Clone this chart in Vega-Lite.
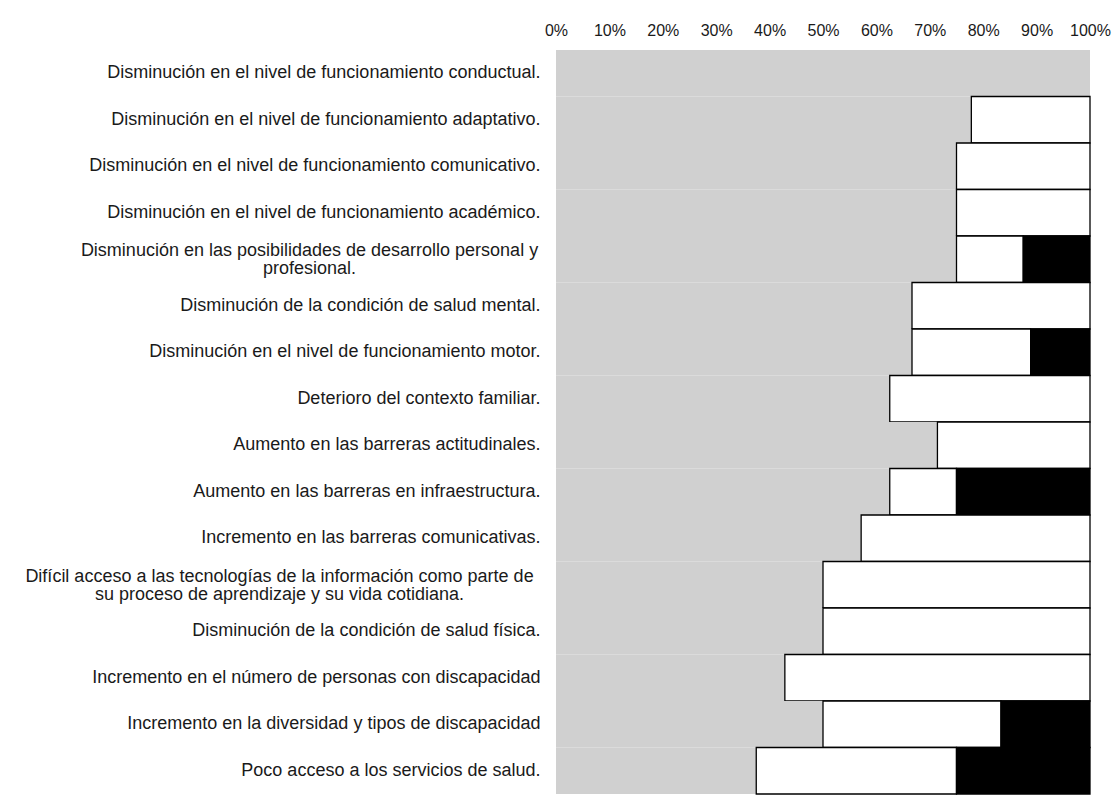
{
  "$schema": "https://vega.github.io/schema/vega-lite/v6.json",
  "autosize": {"type": "none"},
  "padding": {"left": 556, "top": 50, "right": 30, "bottom": 13},
  "width": 534,
  "height": 744,
  "background": "white",
  "config": {"view": {"stroke": null}, "font": "Liberation Sans"},
  "data": {
    "values": [
      {"item": "Disminución en el nivel de funcionamiento conductual.", "serie": "Serie 1", "n": 8},
      {"item": "Disminución en el nivel de funcionamiento adaptativo.", "serie": "Serie 1", "n": 7},
      {"item": "Disminución en el nivel de funcionamiento adaptativo.", "serie": "Serie 2", "n": 2},
      {"item": "Disminución en el nivel de funcionamiento comunicativo.", "serie": "Serie 1", "n": 6},
      {"item": "Disminución en el nivel de funcionamiento comunicativo.", "serie": "Serie 2", "n": 2},
      {"item": "Disminución en el nivel de funcionamiento académico.", "serie": "Serie 1", "n": 6},
      {"item": "Disminución en el nivel de funcionamiento académico.", "serie": "Serie 2", "n": 2},
      {"item": "Disminución en las posibilidades de desarrollo personal y|profesional.", "serie": "Serie 1", "n": 6},
      {"item": "Disminución en las posibilidades de desarrollo personal y|profesional.", "serie": "Serie 2", "n": 1},
      {"item": "Disminución en las posibilidades de desarrollo personal y|profesional.", "serie": "Serie 3", "n": 1},
      {"item": "Disminución de la condición de salud mental.", "serie": "Serie 1", "n": 6},
      {"item": "Disminución de la condición de salud mental.", "serie": "Serie 2", "n": 3},
      {"item": "Disminución en el nivel de funcionamiento motor.", "serie": "Serie 1", "n": 6},
      {"item": "Disminución en el nivel de funcionamiento motor.", "serie": "Serie 2", "n": 2},
      {"item": "Disminución en el nivel de funcionamiento motor.", "serie": "Serie 3", "n": 1},
      {"item": "Deterioro del contexto familiar.", "serie": "Serie 1", "n": 5},
      {"item": "Deterioro del contexto familiar.", "serie": "Serie 2", "n": 3},
      {"item": "Aumento en las barreras actitudinales.", "serie": "Serie 1", "n": 5},
      {"item": "Aumento en las barreras actitudinales.", "serie": "Serie 2", "n": 2},
      {"item": "Aumento en las barreras en infraestructura.", "serie": "Serie 1", "n": 5},
      {"item": "Aumento en las barreras en infraestructura.", "serie": "Serie 2", "n": 1},
      {"item": "Aumento en las barreras en infraestructura.", "serie": "Serie 3", "n": 2},
      {"item": "Incremento en las barreras comunicativas.", "serie": "Serie 1", "n": 4},
      {"item": "Incremento en las barreras comunicativas.", "serie": "Serie 2", "n": 3},
      {"item": "Difícil acceso a las tecnologías de la información como parte de|su proceso de aprendizaje y su vida cotidiana.", "serie": "Serie 1", "n": 4},
      {"item": "Difícil acceso a las tecnologías de la información como parte de|su proceso de aprendizaje y su vida cotidiana.", "serie": "Serie 2", "n": 4},
      {"item": "Disminución de la condición de salud física.", "serie": "Serie 1", "n": 4},
      {"item": "Disminución de la condición de salud física.", "serie": "Serie 2", "n": 4},
      {"item": "Incremento en el número de personas con discapacidad", "serie": "Serie 1", "n": 3},
      {"item": "Incremento en el número de personas con discapacidad", "serie": "Serie 2", "n": 4},
      {"item": "Incremento en la diversidad y tipos de discapacidad", "serie": "Serie 1", "n": 3},
      {"item": "Incremento en la diversidad y tipos de discapacidad", "serie": "Serie 2", "n": 2},
      {"item": "Incremento en la diversidad y tipos de discapacidad", "serie": "Serie 3", "n": 1},
      {"item": "Poco acceso a los servicios de salud.", "serie": "Serie 1", "n": 3},
      {"item": "Poco acceso a los servicios de salud.", "serie": "Serie 2", "n": 3},
      {"item": "Poco acceso a los servicios de salud.", "serie": "Serie 3", "n": 2}
    ]
  },
  "mark": {"type": "bar", "strokeWidth": 1.3},
  "encoding": {
    "y": {
      "field": "item",
      "type": "nominal",
      "sort": null,
      "scale": {"paddingInner": 0, "paddingOuter": 0},
      "axis": {
        "title": null,
        "domain": false,
        "ticks": false,
        "labelExpr": "split(datum.label, '|')",
        "labelLimit": 0,
        "labelFontSize": 18,
        "labelColor": "#1a1a1a",
        "labelAlign": {
          "condition": {"test": "indexof(datum.value, '|') >= 0", "value": "center"},
          "value": "right"
        },
        "labelPadding": {
          "condition": [
            {"test": "indexof(datum.value, 'posibilidades') >= 0", "value": 247},
            {"test": "indexof(datum.value, 'tecnologías') >= 0", "value": 277}
          ],
          "value": 16
        },
        "labelOffset": {
          "condition": {"test": "indexof(datum.value, '|') >= 0", "value": -8},
          "value": 0
        },
        "labelLineHeight": 18
      }
    },
    "x": {
      "field": "n",
      "type": "quantitative",
      "stack": "normalize",
      "scale": {"domain": [0, 1]},
      "axis": {
        "orient": "top",
        "title": null,
        "format": ".0%",
        "values": [0, 0.1, 0.2, 0.3, 0.4, 0.5, 0.6, 0.7, 0.8, 0.9, 1],
        "domain": false,
        "ticks": false,
        "grid": false,
        "labelFontSize": 16,
        "labelColor": "#1a1a1a",
        "labelPadding": 12,
        "labelFlush": false
      }
    },
    "fill": {
      "field": "serie",
      "type": "nominal",
      "scale": {"domain": ["Serie 1", "Serie 2", "Serie 3"], "range": ["#d0d0d0", "#ffffff", "#000000"]},
      "legend": null
    },
    "stroke": {
      "condition": {"test": "datum.serie !== 'Serie 1'", "value": "#000000"},
      "value": null
    },
    "order": {"field": "serie"}
  }
}
